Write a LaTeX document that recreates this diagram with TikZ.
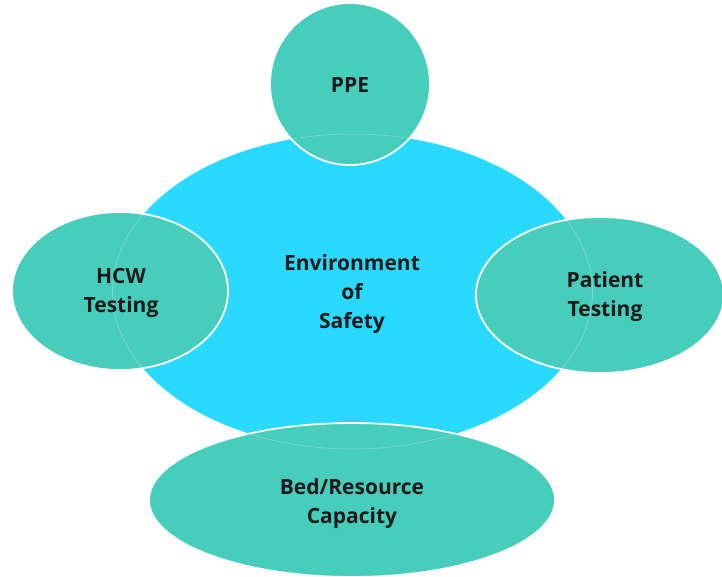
\documentclass[tikz,border=0pt]{standalone}
\usepackage{fontspec}
\setmainfont{Open Sans}
\definecolor{cyanbig}{HTML}{2AD9FF}
\definecolor{teal}{HTML}{47CDBB}
\definecolor{txt}{HTML}{1A1A1A}
\begin{document}
\begin{tikzpicture}[x=1pt,y=-1pt,
  sat/.style={fill=teal,draw=white,line width=1.8pt},
  lab/.style={text=txt,font=\fontsize{21}{29}\selectfont\bfseries,align=center}]
\useasboundingbox (0,0) rectangle (722,577);
\begin{scope}
\clip (0,0) rectangle (722,577);
\fill[cyanbig] (352.5,291.5) ellipse [x radius=240, y radius=157.5];
\draw[sat] (350,84) ellipse [x radius=80, y radius=81];
\draw[sat] (120,291) ellipse [x radius=108, y radius=79];
\draw[sat] (600,295) ellipse [x radius=124, y radius=78];
\draw[sat] (352,500) ellipse [x radius=203, y radius=77];
\draw[white,opacity=0.3,line width=0.6pt] (352.5,291.5) ellipse [x radius=240, y radius=157.5];
\end{scope}
\node[lab] (env) at (352,294.5) {Environment\\of\\Safety};
\node[lab] (ppe) at (350,85) {PPE};
\node[lab] (hcw) at (121,293) {HCW\\Testing};
\node[lab] (pat) at (605,297) {Patient\\Testing};
\node[lab] (bed) at (352,504) {Bed/Resource\\Capacity};
\end{tikzpicture}
\end{document}
